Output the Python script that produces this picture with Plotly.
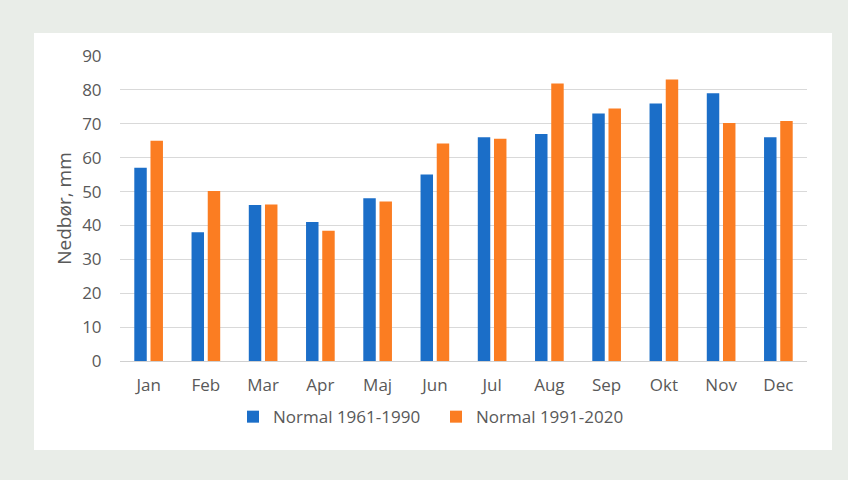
import plotly.graph_objects as go

months = ["Jan", "Feb", "Mar", "Apr", "Maj", "Jun", "Jul", "Aug", "Sep", "Okt", "Nov", "Dec"]
normal_1961_1990 = [57, 38, 46, 41, 48, 55, 66, 67, 73, 76, 79, 66]
normal_1991_2020 = [65, 50.2, 46.2, 38.4, 47.1, 64.2, 65.6, 81.9, 74.5, 83.1, 70.2, 70.8]
y_ticks = [0, 10, 20, 30, 40, 50, 60, 70, 80, 90]

FONT = "Open Sans"
TXT = "#595959"

fig = go.Figure()
fig.add_trace(go.Bar(x=months, y=normal_1961_1990, name="Normal 1961-1990",
                     marker=dict(color="#1b6ec8", line=dict(width=0))))
fig.add_trace(go.Bar(x=months, y=normal_1991_2020, name="Normal 1991-2020",
                     marker=dict(color="#fb7d22", line=dict(width=0))))

W, H = 848, 480
L, R, T, B = 120, 41, 56, 119

fig.update_layout(
    width=W, height=H,
    margin=dict(l=L, r=R, t=T, b=B),
    paper_bgcolor="#e9ede8",
    plot_bgcolor="white",
    barmode="group",
    bargap=0.434,
    bargroupgap=0.23,
    font=dict(family=FONT, size=17, color=TXT),
    showlegend=True,
    legend=dict(orientation="h", x=0.46, xanchor="center", y=-0.184, yanchor="middle",
                itemwidth=30, entrywidth=158, font=dict(family=FONT, size=17, color=TXT),
                bgcolor="rgba(0,0,0,0)", traceorder="normal"),
    shapes=[dict(type="rect", xref="paper", yref="paper",
                 x0=(34 - L) / (W - L - R), x1=(832 - L) / (W - L - R),
                 y0=(H - B - 450) / (H - T - B), y1=(H - B - 33) / (H - T - B),
                 fillcolor="white", line=dict(width=0), layer="below")],
)
fig.update_xaxes(showgrid=False, showline=True, linecolor="#d0d0d0", linewidth=1,
                 ticks="outside", tickcolor="rgba(0,0,0,0)", ticklen=9,
                 tickfont=dict(family=FONT, size=17, color=TXT))
fig.update_yaxes(range=[0, 90], tickvals=y_ticks, showgrid=True, gridcolor="#d9d9d9",
                 gridwidth=1, zeroline=False, showline=False,
                 ticks="outside", tickcolor="rgba(0,0,0,0)", ticklen=14,
                 tickfont=dict(family=FONT, size=17, color=TXT),
                 title=dict(text="Nedbør, mm", font=dict(family=FONT, size=19, color=TXT), standoff=5))

fig.write_html("out.html", config={"displayModeBar": False},
               post_script="document.body.style.margin='0';document.body.style.background='#e9ede8';")
